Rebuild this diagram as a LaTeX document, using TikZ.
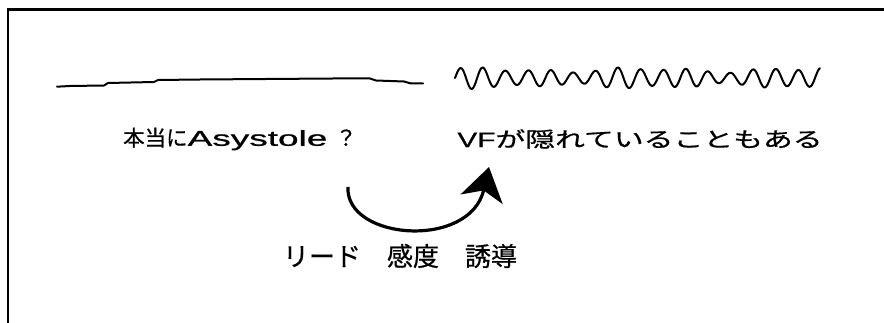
\documentclass[tikz,border=0pt]{standalone}
\usepackage{fontspec}
\usetikzlibrary{arrows.meta}
\newfontfamily\jp{Noto Sans CJK JP}[FakeBold=0.6]
\newfontfamily\lat{Liberation Sans}[FakeBold=0.6]
\begin{document}
\begin{tikzpicture}[x=1pt,y=1pt,
  frameline/.style={line width=2.6pt},
  trace/.style={line width=2pt,line cap=round,line join=round},
  lbl/.style={inner sep=0pt,anchor=center},
  bend arrow/.style={line width=3.2pt,-{Stealth[length=33pt,width=43pt,inset=9pt]}}]
\useasboundingbox (0,0) rectangle (884,-323);
% open frame
\coordinate (fb) at (8,-330);
\coordinate (fc) at (8,-9.5);
\coordinate (fr) at (890,-9.5);
\draw[frameline] (fb) -- (fc) -- (fr);
% flat trace (asystole)
\draw[trace] (57,-86.7) -- (70,-86) -- (104,-85.5) -- (108,-83) -- (154,-82) -- (158,-80)
  -- (200,-79.5) -- (333,-78.5) -- (370,-78.5) -- (376,-80.5) -- (404,-81.5) -- (411,-83.5) -- (423,-83.5);
% fine VF trace
\draw[trace] plot[domain=0:365,samples=500,smooth]
  ({455+\x},{-78+(8+1.5*sin(\x*5)+1.5*sin(\x*2.2+40))*sin(\x*16+6*sin(\x*3))});
% labels
\node[lbl] (t1) at (240,-139) {\fontsize{21.5}{23}\selectfont{\jp 本当に}\scalebox{1.72}[1]{\lat Asystole}\hspace{8pt}{\jp ？}};
\node[lbl] (t2) at (640,-139) {\fontsize{21}{23}\selectfont\scalebox{1.42}[1]{{\lat VF}\jp が隠れていることもある}};
\node[lbl] (t3) at (400,-256) {\fontsize{26}{28}\selectfont\jp リード　感度　誘導};
% curved arrow
\coordinate (as) at (348,-187);
\coordinate (at) at (489,-167);
\draw[bend arrow] (as) .. controls (345,-240) and (470,-250) .. (at);
\end{tikzpicture}
\end{document}
